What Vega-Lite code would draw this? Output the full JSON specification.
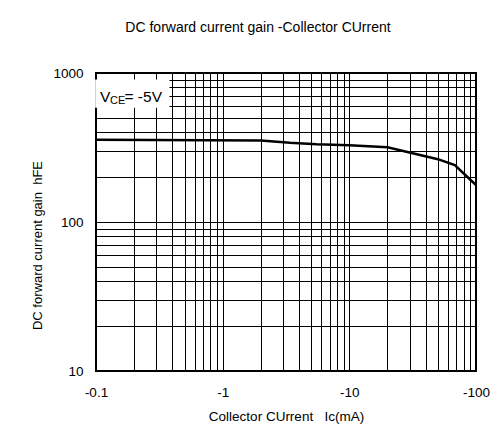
{
  "$schema": "https://vega.github.io/schema/vega-lite/v6.json",
  "width": 380,
  "height": 298,
  "autosize": {"type": "none"},
  "padding": {"left": 96, "top": 73, "right": 22, "bottom": 71},
  "background": "white",
  "title": {
    "text": "DC forward current gain -Collector CUrrent",
    "font": "Liberation Sans",
    "fontSize": 14,
    "fontWeight": "normal",
    "color": "black",
    "anchor": "middle",
    "dx": -28,
    "offset": 31
  },
  "config": {
    "view": {"stroke": "black", "strokeWidth": 2},
    "axis": {
      "labelFont": "Liberation Sans",
      "titleFont": "Liberation Sans",
      "labelFontSize": 13.5,
      "titleFontSize": 13.5,
      "titleFontWeight": "normal",
      "labelColor": "black",
      "titleColor": "black",
      "gridColor": "black",
      "gridOpacity": 1,
      "gridWidth": 1,
      "ticks": false,
      "domain": false,
      "labelFlush": false
    }
  },
  "data": {
    "values": [
      {"ic": 0.1, "hfe": 357},
      {"ic": 2, "hfe": 353},
      {"ic": 3.4, "hfe": 340},
      {"ic": 5.5, "hfe": 332},
      {"ic": 10, "hfe": 328},
      {"ic": 20, "hfe": 317},
      {"ic": 50, "hfe": 264},
      {"ic": 68, "hfe": 241},
      {"ic": 100, "hfe": 177}
    ]
  },
  "layer": [
    {
      "mark": {"type": "line", "color": "black", "strokeWidth": 2.5, "clip": true},
      "encoding": {
        "x": {
          "field": "ic",
          "type": "quantitative",
          "scale": {"type": "log", "domain": [0.1, 100], "nice": false},
          "axis": {
            "values": [0.1, 0.2, 0.3, 0.4, 0.5, 0.6, 0.7, 0.8, 0.9, 1, 2, 3, 4, 5, 6, 7, 8, 9, 10, 20, 30, 40, 50, 60, 70, 80, 90, 100],
            "labelExpr": "datum.value == 0.1 ? '-0.1' : datum.value == 1 ? '-1' : datum.value == 10 ? '-10' : datum.value == 100 ? '-100' : ''",
            "labelPadding": 14,
            "title": "Collector CUrrent\u00a0\u00a0\u00a0Ic(mA)",
            "titlePadding": 11
          }
        },
        "y": {
          "field": "hfe",
          "type": "quantitative",
          "scale": {"type": "log", "domain": [10, 1000], "nice": false},
          "axis": {
            "values": [10, 20, 30, 40, 50, 60, 70, 80, 90, 100, 200, 300, 400, 500, 600, 700, 800, 900, 1000],
            "labelExpr": "datum.value == 10 ? '10' : datum.value == 100 ? '100' : datum.value == 1000 ? '1000' : ''",
            "labelPadding": 13,
            "title": "DC forward current gain\u00a0\u00a0hFE",
            "titleFontSize": 13,
            "titlePadding": 8,
            "titleY": 172
          }
        }
      }
    },
    {
      "data": {"values": [{}]},
      "mark": {"type": "rect", "fill": "white", "clip": false},
      "encoding": {
        "x": {"datum": 0.0985},
        "x2": {"datum": 0.38},
        "y": {"datum": 585},
        "y2": {"datum": 905}
      }
    },
    {
      "data": {"values": [{}]},
      "mark": {"type": "text", "text": "V", "font": "Liberation Sans", "fontSize": 15.5, "align": "left", "baseline": "alphabetic", "dx": 4, "color": "black"},
      "encoding": {"x": {"datum": 0.1}, "y": {"datum": 641}}
    },
    {
      "data": {"values": [{}]},
      "mark": {"type": "text", "text": "CE", "font": "Liberation Sans", "fontSize": 11, "align": "left", "baseline": "alphabetic", "dx": 14, "color": "black"},
      "encoding": {"x": {"datum": 0.1}, "y": {"datum": 620}}
    },
    {
      "data": {"values": [{}]},
      "mark": {"type": "text", "text": "=\u00a0-5V", "font": "Liberation Sans", "fontSize": 15.5, "align": "left", "baseline": "alphabetic", "dx": 28.5, "color": "black"},
      "encoding": {"x": {"datum": 0.1}, "y": {"datum": 641}}
    }
  ]
}
